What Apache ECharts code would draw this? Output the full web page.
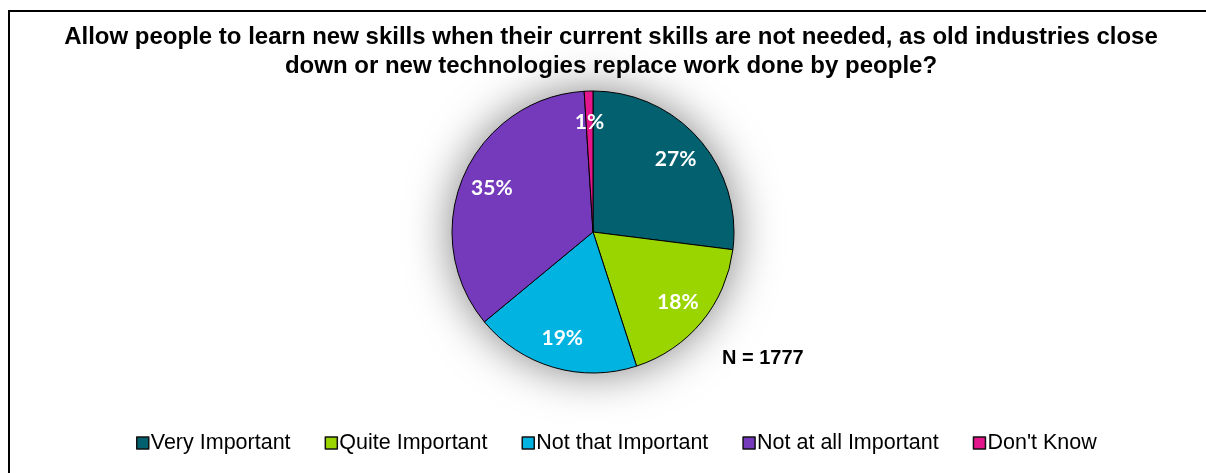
<!DOCTYPE html>
<html>
<head>
<meta charset="utf-8">
<script src="https://cdn.jsdelivr.net/npm/echarts@6/dist/echarts.min.js"></script>
<style>
  html, body { margin: 0; padding: 0; background: #fff; }
  #chart { width: 1206px; height: 473px; }
</style>
</head>
<body>
<div id="chart"></div>
<script>
// Survey responses (percent of respondents)
const categories = ['Very Important', 'Quite Important', 'Not that Important', 'Not at all Important', "Don't Know"];
const shares = [27, 18, 19, 35, 1];
const colors = ['#03606F', '#9AD500', '#00B3E1', '#743ABB', '#E4168C'];
const titleText = 'Allow people to learn new skills when their current skills are not needed, as old industries close\ndown or new technologies replace work done by people?';
const sampleNote = 'N = 1777';

const cx = 593, cy = 232, R = 141;

const sliceData = categories.map((name, i) => ({
  name: name,
  value: shares[i],
  itemStyle: { color: colors[i] }
}));

const chart = echarts.init(document.getElementById('chart'), null, { renderer: 'canvas' });
chart.setOption({
  animation: false,
  backgroundColor: '#fff',
  color: colors,
  title: {
    text: titleText,
    left: 606,
    top: 18,
    textAlign: 'center',
    textStyle: {
      fontFamily: 'Liberation Sans, Arial, sans-serif',
      fontWeight: 'bold',
      fontSize: 24,
      lineHeight: 29,
      color: '#000'
    }
  },
  legend: {
    data: categories,
    top: 427,
    left: 131,
    icon: 'rect',
    itemWidth: 12,
    itemHeight: 12,
    itemGap: 34,
    selectedMode: false,
    itemStyle: { borderColor: '#111', borderWidth: 1.5 },
    textStyle: {
      fontFamily: 'Liberation Sans, Arial, sans-serif',
      fontSize: 21.5,
      color: '#000',
      padding: [0, 0, 0, -3]
    }
  },
  graphic: [
    {
      type: 'rect',
      shape: { x: 9, y: 11, width: 1220, height: 500 },
      style: { fill: 'none', stroke: '#000', lineWidth: 2 },
      silent: true,
      z: 100
    },
    {
      type: 'text',
      left: 722,
      top: 348,
      style: {
        text: sampleNote,
        fontFamily: 'Liberation Sans, Arial, sans-serif',
        fontWeight: 'bold',
        fontSize: 20,
        fill: '#000'
      }
    }
  ],
  series: [
    {
      // soft halo behind the pie
      type: 'pie',
      silent: true,
      center: [cx, cy],
      radius: R,
      label: { show: false },
      labelLine: { show: false },
      itemStyle: {
        color: '#fff',
        shadowBlur: 45,
        shadowColor: 'rgba(0,0,0,0.5)'
      },
      data: [{ value: 1, name: '' }],
      z: 1
    },
    {
      type: 'pie',
      center: [cx, cy],
      radius: R,
      startAngle: 90,
      clockwise: true,
      label: { show: false },
      labelLine: { show: false },
      itemStyle: { borderColor: '#000', borderWidth: 1 },
      emphasis: { disabled: true },
      data: sliceData,
      z: 2
    },
    {
      // transparent ring used only to place the percentage labels
      type: 'pie',
      silent: true,
      center: [cx, cy],
      radius: [R * 0.52, R],
      startAngle: 90,
      clockwise: true,
      itemStyle: { color: 'rgba(0,0,0,0)' },
      label: {
        show: true,
        position: 'inside',
        formatter: '{c}%',
        color: '#fff',
        fontFamily: 'Lato, sans-serif',
        fontWeight: 'bold',
        fontSize: 21
      },
      labelLine: { show: false },
      data: categories.map((name, i) => ({ name: name, value: shares[i] })),
      z: 3
    }
  ]
});
</script>
</body>
</html>
